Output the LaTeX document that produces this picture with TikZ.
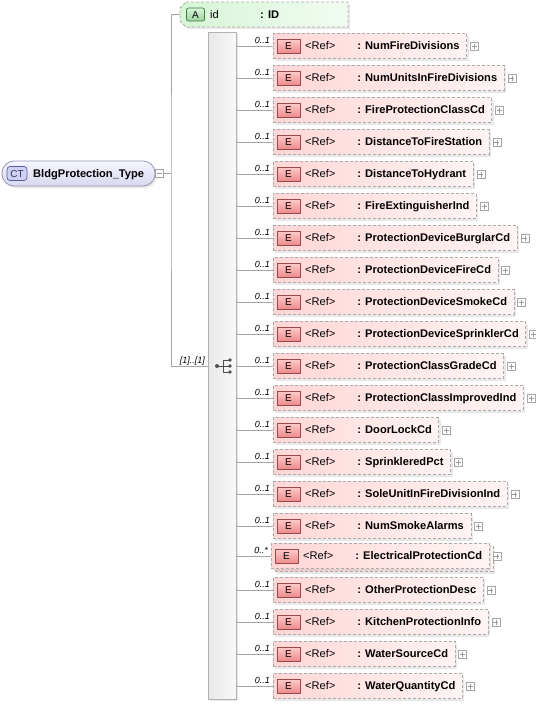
\documentclass[tikz,border=0pt]{standalone}
\usepackage{fontspec}
\setmainfont{Liberation Sans}
\usetikzlibrary{shadows,calc}
\definecolor{elL}{HTML}{FFD6D6}
\definecolor{elR}{HTML}{FFF4F4}
\definecolor{eIconT}{HTML}{FFCACA}
\definecolor{eIconB}{HTML}{EE8C8C}
\definecolor{eIconD}{HTML}{9A4A4A}
\definecolor{atL}{HTML}{D6F5D6}
\definecolor{atR}{HTML}{F2FCF2}
\definecolor{aIconT}{HTML}{D8F4D8}
\definecolor{aIconB}{HTML}{9CD49C}
\definecolor{aIconD}{HTML}{3E7A3E}
\definecolor{ctT}{HTML}{F6F6FF}
\definecolor{ctB}{HTML}{D8D8F0}
\definecolor{ctD}{HTML}{9494B8}
\definecolor{ctIcon}{HTML}{D0D0F2}
\definecolor{ctIconD}{HTML}{5A5A9A}
\definecolor{dashc}{HTML}{ABABAB}
\definecolor{linec}{HTML}{A4A4A4}
\definecolor{seqc}{HTML}{505050}
\tikzset{
  conn/.style={draw=linec, line width=0.8pt},
  softshadow/.style={drop shadow={opacity=0.18, fill=gray, shadow xshift=2pt, shadow yshift=-2pt}},
  elbox/.style={draw=dashc, dash pattern=on 3pt off 2pt, line width=0.8pt,
    left color=elL, right color=elR, minimum height=25pt, inner xsep=0pt, inner ysep=0pt,
    anchor=west, text height=8.5pt, text depth=1.5pt, font=\bfseries\fontsize{11.1}{13}\selectfont, softshadow},
  eicon/.style={draw=eIconD, line width=0.7pt, top color=eIconT, bottom color=eIconB,
    minimum width=23pt, minimum height=14pt, inner sep=0pt, text height=7.5pt, text depth=0pt,
    font=\fontsize{10}{11}\selectfont},
  reftext/.style={anchor=west, inner sep=0pt, text height=8.5pt, text depth=1.5pt},
  mult/.style={inner sep=0pt, font=\itshape\fontsize{9}{10}\selectfont},
  plusic/.style={draw=gray!70, line width=0.6pt, fill=white, minimum size=8pt, inner sep=0pt,
    path picture={\draw[gray!80, line width=0.6pt]
      ($(path picture bounding box.center)+(-2.5pt,0)$) -- ++(5pt,0)
      ($(path picture bounding box.center)+(0,-2.5pt)$) -- ++(0,5pt);}},
  minusic/.style={draw=gray!70, line width=0.6pt, fill=white, minimum size=8pt, inner sep=0pt,
    path picture={\draw[gray!80, line width=0.6pt]
      ($(path picture bounding box.center)+(-2.5pt,0)$) -- ++(5pt,0);}},
  seqbar/.style={draw=gray!60, line width=0.8pt, left color=gray!18, right color=gray!5,
    minimum width=28pt, minimum height=667pt, inner sep=0pt, softshadow},
  ctbox/.style={draw=ctD, line width=0.8pt, top color=ctT, bottom color=ctB,
    rounded corners=12pt, minimum width=153pt, minimum height=25pt, inner sep=0pt, softshadow},
  cticon/.style={draw=ctIconD, line width=0.7pt, fill=ctIcon, rounded corners=3pt,
    minimum width=20pt, minimum height=14pt, inner sep=0pt, text height=7.5pt, text depth=0pt,
    font=\fontsize{10}{11}\selectfont, text=ctIconD!60!black},
  aicon/.style={draw=aIconD, line width=0.7pt, top color=aIconT, bottom color=aIconB, rounded corners=2pt,
    minimum width=18pt, minimum height=13pt, inner sep=0pt, text height=7.5pt, text depth=0pt,
    font=\fontsize{10}{11}\selectfont}
}
\begin{document}
\begin{tikzpicture}[x=1pt,y=1pt,font=\fontsize{11.1}{13}\selectfont]
\useasboundingbox (0,0) rectangle (536,-705);

% complex type
\node[ctbox] (ct) at (78.5,-173.5) {};
\node[cticon] (cti) at (17,-173.5) {CT};
\node[reftext, font=\bfseries\fontsize{11.1}{13}\selectfont] (ctn) at (33,-173.5) {BldgProtection\_Type};
\node[minusic, anchor=west] (ctm) at (ct.east) {};
\coordinate (vx) at (171,-173.5);

% attribute
\coordinate (attr) at (180,-14.5);
\fill[gray, opacity=0.18] (188,-4) -- (350,-4) -- (350,-29) -- (188,-29) -- (182,-23) -- (182,-10) -- cycle;
\path[left color=atL, right color=atR, draw=dashc, dash pattern=on 3pt off 2pt, line width=0.8pt]
  (186,-2) -- (348,-2) -- (348,-27) -- (186,-27) -- (180,-21) -- (180,-8) -- cycle;
\node[aicon] (ai) at (195.5,-14.5) {A};
\node[reftext] (an) at (210,-14.5) {id};
\node[reftext, font=\bfseries\fontsize{11.1}{13}\selectfont] (at) at (260,-14.5) {: ID};

% sequence bar
\node[seqbar] (bar) at (222,-365.5) {};
\coordinate (seq) at (208,-366);
\begin{scope}[shift={(seq)}]
  \draw[seqc, line width=0.9pt] (9,0) -- (15,0) (15,-6) -- (15,6) (15,6) -- (22,6) (15,0) -- (22,0) (15,-6) -- (22,-6);
  \fill[seqc] (9,0) circle (2);
  \fill[seqc] (22,6) circle (1.9) (22,0) circle (1.9) (22,-6) circle (1.9);
\end{scope}
\node[mult, anchor=base east] (sm) at ($(seq)+(-3,2.5)$) {[1]..[1]};

% connectors from type
\draw[conn] (ctm.east) -- (vx);
\draw[conn] (attr) -| (vx) |- (seq);

% back box of the repeating element
\node[elbox] (e17b) at (275,-559) {\hspace*{84pt}\phantom{: ElectricalProtectionCd}\hspace*{7pt}};

\foreach \n/\m/\dx/\dy [count=\i] in {
  NumFireDivisions/0..1/0/0,
  NumUnitsInFireDivisions/0..1/0/0,
  FireProtectionClassCd/0..1/0/0,
  DistanceToFireStation/0..1/0/0,
  DistanceToHydrant/0..1/0/0,
  FireExtinguisherInd/0..1/0/0,
  ProtectionDeviceBurglarCd/0..1/0/0,
  ProtectionDeviceFireCd/0..1/0/0,
  ProtectionDeviceSmokeCd/0..1/0/0,
  ProtectionDeviceSprinklerCd/0..1/0/0,
  ProtectionClassGradeCd/0..1/0/0,
  ProtectionClassImprovedInd/0..1/0/0,
  DoorLockCd/0..1/0/0,
  SprinkleredPct/0..1/0/0,
  SoleUnitInFireDivisionInd/0..1/0/0,
  NumSmokeAlarms/0..1/0/0,
  ElectricalProtectionCd/0..*/-2/2,
  OtherProtectionDesc/0..1/0/0,
  KitchenProtectionInfo/0..1/0/0,
  WaterSourceCd/0..1/0/0,
  WaterQuantityCd/0..1/0/0}{
  \pgfmathsetmacro\xx{273+\dx}
  \pgfmathsetmacro\yy{-14-32*\i+\dy}
  \node[elbox] (e\i) at (\xx,\yy) {\hspace*{84pt}: \n\hspace*{7pt}};
  \node[eicon] (ei\i) at ($(e\i.west)+(15.5,0)$) {E};
  \node[reftext] (er\i) at ($(e\i.west)+(32,0)$) {<Ref>};
  \node[plusic, anchor=west] (p\i) at ($(e\i.east)+(3,0)$) {};
  \draw[conn] (bar.east |- e\i.west) -- (e\i.west);
  \node[mult, anchor=base east] (m\i) at ($(e\i.west)+(-3,2.5)$) {\m};
}
\end{tikzpicture}
\end{document}
